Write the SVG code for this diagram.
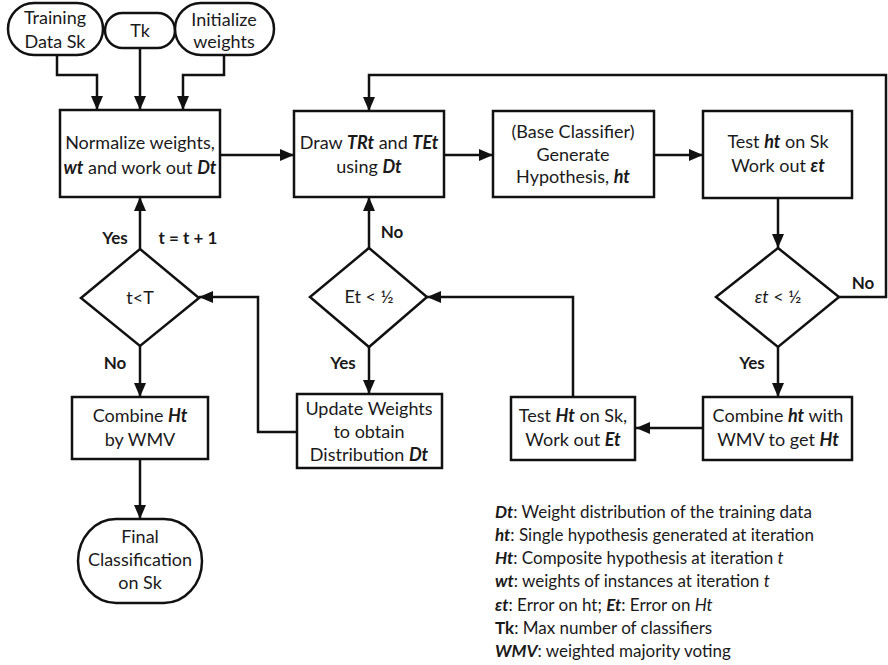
<svg xmlns="http://www.w3.org/2000/svg" width="888" height="665" viewBox="0 0 888 665">
<style>
.box{fill:#fff;stroke:#111;stroke-width:2.5}
.c{fill:none;stroke:#111;stroke-width:2.5;marker-end:url(#arr)}
text{font-family:Lato,"Liberation Sans",sans-serif;font-size:18px;fill:#1a1a1a}
.m{text-anchor:middle}
.bi{font-weight:bold;font-style:italic}
.i{font-style:italic}
.lbl{font-weight:bold;font-size:17px}
.leg{font-size:17px}
</style>
<defs>
<marker id="arr" markerUnits="userSpaceOnUse" markerWidth="14" markerHeight="12" refX="14" refY="6" orient="auto">
<path d="M0,0 L14,6 L0,12 z" fill="#111"/>
</marker>
</defs>
<rect width="888" height="665" fill="#fff"/>

<g id="connectors">
<path class="c" d="M57,55 V75 H97 V110"/>
<path class="c" d="M140,48 V110"/>
<path class="c" d="M224,55 V75 H183 V110"/>
<path class="c" d="M220,155 H294"/>
<path class="c" d="M444,155 H493"/>
<path class="c" d="M654,155 H703"/>
<path class="c" d="M778,198 V248"/>
<path class="c" d="M838,297 H886 V75 H369 V111"/>
<path class="c" d="M778,347 V397"/>
<path class="c" d="M703,428 H636"/>
<path class="c" d="M573,397 V297 H427"/>
<path class="c" d="M369,248 V197"/>
<path class="c" d="M369,347 V394"/>
<path class="c" d="M297,432 H258 V297 H199"/>
<path class="c" d="M140,249 V197"/>
<path class="c" d="M140,346 V397"/>
<path class="c" d="M140,459 V519"/>
<text class="lbl m" x="115" y="244">Yes</text>
<text class="lbl m" x="188" y="244">t = t + 1</text>
<text class="lbl m" x="115" y="369">No</text>
<text class="lbl m" x="392" y="238">No</text>
<text class="lbl m" x="343" y="369">Yes</text>
<text class="lbl m" x="863" y="289">No</text>
<text class="lbl m" x="752" y="369">Yes</text>
</g>

<g id="training">
<rect class="box" x="8" y="3" width="95" height="52" rx="26" ry="26"/>
<text class="m" x="55" y="24">Training</text>
<text class="m" x="55" y="48">Data Sk</text>
</g>
<g id="tk">
<rect class="box" x="105" y="13" width="70" height="35" rx="17.5" ry="17.5"/>
<text class="m" x="140" y="37">Tk</text>
</g>
<g id="init">
<rect class="box" x="175" y="3" width="99" height="52" rx="26" ry="26"/>
<text class="m" x="224" y="26">Initialize</text>
<text class="m" x="224" y="48">weights</text>
</g>

<g id="normalize">
<rect class="box" x="60" y="110" width="160" height="87"/>
<text class="m" x="140" y="149">Normalize weights,</text>
<text class="m" x="140" y="174"><tspan class="bi">wt</tspan> and work out <tspan class="bi">Dt</tspan></text>
</g>
<g id="draw">
<rect class="box" x="294" y="111" width="150" height="86"/>
<text class="m" x="369" y="149">Draw <tspan class="bi">TRt</tspan> and <tspan class="bi">TEt</tspan></text>
<text class="m" x="369" y="173">using <tspan class="bi">Dt</tspan></text>
</g>
<g id="base">
<rect class="box" x="493" y="111" width="161" height="86"/>
<text class="m" x="573" y="138">(Base Classifier)</text>
<text class="m" x="573" y="161">Generate</text>
<text class="m" x="573" y="183">Hypothesis, <tspan class="bi">ht</tspan></text>
</g>
<g id="testht">
<rect class="box" x="703" y="111" width="149" height="87"/>
<text class="m" x="778" y="148">Test <tspan class="bi">ht</tspan> on Sk</text>
<text class="m" x="778" y="172">Work out <tspan class="bi">εt</tspan></text>
</g>

<g id="eps-dec">
<polygon class="box" points="778,248 839,297 778,347 716,297"/>
<text class="m" x="778" y="303"><tspan class="i">εt</tspan> &lt; ½</text>
</g>
<g id="et-dec">
<polygon class="box" points="369,248 427,297 369,347 310,297"/>
<text class="m" x="369" y="303">Et &lt; ½</text>
</g>
<g id="t-dec">
<polygon class="box" points="140,249 199,298 140,346 81,298"/>
<text class="m" x="140" y="304">t&lt;T</text>
</g>

<g id="combine-ht">
<rect class="box" x="703" y="397" width="149" height="63"/>
<text class="m" x="778" y="422">Combine <tspan class="bi">ht</tspan> with</text>
<text class="m" x="778" y="446">WMV to get <tspan class="bi">Ht</tspan></text>
</g>
<g id="test-Ht">
<rect class="box" x="511" y="397" width="124" height="63"/>
<text class="m" x="573" y="422">Test <tspan class="bi">Ht</tspan> on Sk,</text>
<text class="m" x="573" y="446">Work out <tspan class="bi">Et</tspan></text>
</g>
<g id="update">
<rect class="box" x="297" y="394" width="145" height="74"/>
<text class="m" x="369" y="415">Update Weights</text>
<text class="m" x="369" y="438">to obtain</text>
<text class="m" x="369" y="461">Distribution <tspan class="bi">Dt</tspan></text>
</g>
<g id="combine-Ht">
<rect class="box" x="72" y="397" width="136" height="62"/>
<text class="m" x="140" y="422">Combine <tspan class="bi">Ht</tspan></text>
<text class="m" x="140" y="446">by WMV</text>
</g>
<g id="final">
<rect class="box" x="78" y="519" width="124" height="84" rx="38" ry="42"/>
<text class="m" x="140" y="543">Final</text>
<text class="m" x="140" y="566">Classification</text>
<text class="m" x="140" y="589">on Sk</text>
</g>

<g id="legend">
<text class="leg" x="495" y="518"><tspan class="bi">Dt</tspan>: Weight distribution of the training data</text>
<text class="leg" x="495" y="541"><tspan class="bi">ht</tspan>: Single hypothesis generated at iteration</text>
<text class="leg" x="495" y="564"><tspan class="bi">Ht</tspan>: Composite hypothesis at iteration <tspan class="i">t</tspan></text>
<text class="leg" x="495" y="587"><tspan class="bi">wt</tspan>: weights of instances at iteration <tspan class="i">t</tspan></text>
<text class="leg" x="495" y="611"><tspan class="bi">εt</tspan>: Error on ht; <tspan class="bi">Et</tspan>: Error on <tspan class="i">Ht</tspan></text>
<text class="leg" x="495" y="634"><tspan font-weight="bold">Tk</tspan>: Max number of classifiers</text>
<text class="leg" x="495" y="657"><tspan class="bi">WMV</tspan>: weighted majority voting</text>
</g>
</svg>
